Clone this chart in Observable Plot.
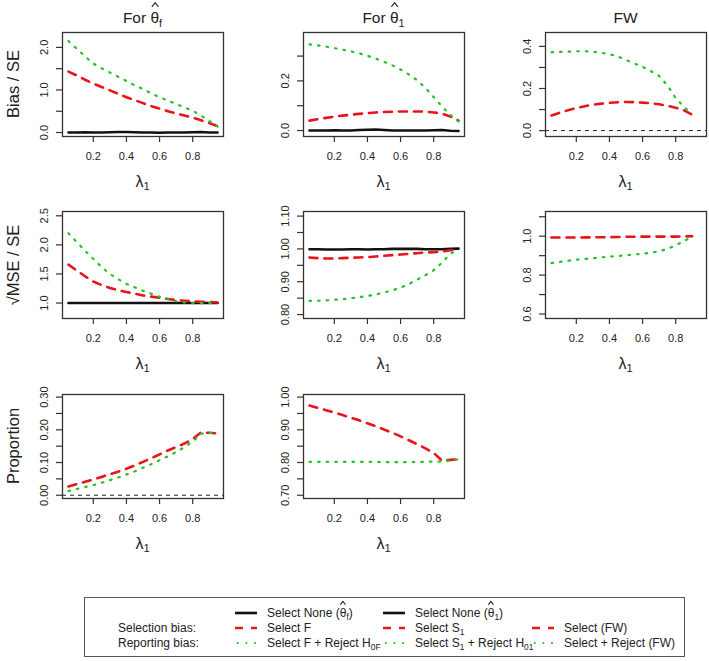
<!DOCTYPE html>
<html><head><meta charset="utf-8">
<script src="https://cdn.jsdelivr.net/npm/d3@7"></script>
<script src="https://cdn.jsdelivr.net/npm/@observablehq/plot@0.6"></script>
<style>
body{margin:0;background:#fff;}
#root{position:relative;width:709px;height:661px;overflow:hidden;background:#fff;font-family:"Liberation Sans",Arial,Helvetica,sans-serif;color:#222;}
.lbl{position:absolute;white-space:nowrap;line-height:1;}
.hat{position:relative;display:inline-block;line-height:1;}
.hat svg{position:absolute;left:50%;margin-left:-0.24em;top:-0.5em;width:0.48em;height:0.32em;overflow:visible;}
sub{font-size:0.7em;vertical-align:-0.3em;line-height:0;}
#legend{position:absolute;border:1.5px solid #555;box-sizing:border-box;}
</style></head><body><div id="root"><div id="legend"></div></div>
<script>
// ---------------- data ----------------
const lambda   = [0.05,0.10,0.15,0.20,0.25,0.30,0.35,0.40,0.45,0.50,0.55,0.60,0.65,0.70,0.75,0.80,0.85,0.90,0.95];
const lambdaFW = [0.05,0.10,0.15,0.20,0.25,0.30,0.35,0.40,0.45,0.50,0.55,0.60,0.65,0.70,0.75,0.80,0.85,0.90];
const xTicks = [0.2,0.4,0.6,0.8];

// Bias / SE
const biasF_none   = [0.00,0.00,0.005,0.00,0.00,0.005,0.012,0.01,0.005,0.00,0.00,-0.005,0.00,0.00,0.00,0.005,0.01,0.00,0.00];
const biasF_select = [1.43,1.34,1.24,1.15,1.07,0.99,0.91,0.83,0.76,0.69,0.62,0.56,0.50,0.45,0.40,0.35,0.29,0.22,0.15];
const biasF_reject = [2.15,1.97,1.79,1.62,1.51,1.41,1.31,1.21,1.11,1.02,0.92,0.83,0.75,0.67,0.59,0.51,0.40,0.27,0.14];
const bias1_none   = [0.000,0.000,0.000,0.001,0.000,0.000,0.002,0.003,0.004,0.002,0.000,0.000,0.000,0.000,0.000,0.001,0.002,-0.001,-0.002];
const bias1_select = [0.040,0.046,0.051,0.056,0.060,0.064,0.067,0.070,0.073,0.075,0.076,0.077,0.077,0.077,0.076,0.073,0.068,0.057,0.040];
const bias1_reject = [0.347,0.343,0.338,0.332,0.326,0.319,0.311,0.301,0.290,0.277,0.263,0.246,0.226,0.203,0.172,0.135,0.097,0.063,0.037];
const biasFW_select = [0.072,0.085,0.097,0.107,0.116,0.123,0.128,0.132,0.135,0.136,0.135,0.133,0.130,0.125,0.118,0.109,0.096,0.076];
const biasFW_reject = [0.372,0.374,0.375,0.377,0.377,0.375,0.370,0.363,0.352,0.336,0.319,0.303,0.283,0.260,0.215,0.155,0.112,0.079];

// sqrt(MSE) / SE
const mseF_none   = [1.000,1.000,1.000,1.000,1.000,1.000,1.000,1.000,1.000,1.000,1.000,1.000,1.000,1.000,1.000,1.000,1.000,1.000,1.000];
const mseF_select = [1.66,1.56,1.46,1.37,1.31,1.26,1.22,1.19,1.16,1.13,1.11,1.09,1.07,1.05,1.04,1.03,1.02,1.02,1.01];
const mseF_reject = [2.20,2.05,1.90,1.76,1.62,1.50,1.41,1.33,1.27,1.21,1.16,1.11,1.07,1.03,1.01,1.00,1.00,1.00,1.00];
const mse1_none   = [0.999,0.999,0.998,0.998,0.998,0.999,0.999,0.998,0.999,0.999,1.000,1.000,1.000,1.000,0.999,0.999,0.999,1.000,1.001];
const mse1_select = [0.974,0.972,0.971,0.971,0.972,0.973,0.974,0.975,0.977,0.979,0.981,0.983,0.985,0.987,0.989,0.990,0.992,0.996,1.000];
const mse1_reject = [0.842,0.842,0.843,0.845,0.847,0.850,0.853,0.857,0.861,0.867,0.874,0.882,0.893,0.906,0.920,0.935,0.958,0.985,1.000];
const mseFW_select = [0.993,0.993,0.993,0.993,0.994,0.994,0.995,0.995,0.996,0.997,0.997,0.998,0.998,0.998,0.998,0.998,0.999,1.000];
const mseFW_reject = [0.862,0.868,0.874,0.879,0.883,0.887,0.891,0.895,0.898,0.902,0.906,0.910,0.915,0.922,0.935,0.953,0.975,0.998];

// Proportion
const propF_select = [0.027,0.034,0.041,0.048,0.056,0.064,0.072,0.081,0.091,0.102,0.113,0.125,0.137,0.147,0.158,0.172,0.192,0.191,0.189];
const propF_reject = [0.013,0.019,0.025,0.031,0.038,0.046,0.054,0.063,0.073,0.084,0.095,0.107,0.119,0.132,0.147,0.164,0.188,0.191,0.189];
const prop1_select = [0.974,0.967,0.960,0.953,0.945,0.937,0.929,0.920,0.911,0.901,0.891,0.880,0.868,0.856,0.843,0.829,0.806,0.808,0.810];
const prop1_reject = [0.802,0.802,0.802,0.802,0.802,0.802,0.802,0.802,0.802,0.801,0.801,0.801,0.801,0.802,0.802,0.803,0.803,0.806,0.810];

// y tick marks and labelled ticks per panel
const ticksBiasF = [0,0.5,1,1.5,2],             labelsBiasF = [0,1,2];
const ticksBias1 = [0,0.1,0.2,0.3],             labelsBias1 = [0,0.2];
const ticksBiasFW = [0,0.1,0.2,0.3,0.4],        labelsBiasFW = [0,0.2,0.4];
const ticksMseF = [1,1.5,2,2.5],                labelsMseF = [1,1.5,2,2.5];
const ticksMse1 = [0.8,0.85,0.9,0.95,1,1.05,1.1], labelsMse1 = [0.8,0.9,1,1.1];
const ticksMseFW = [0.6,0.7,0.8,0.9,1,1.1],     labelsMseFW = [0.6,0.8,1];
const ticksPropF = [0,0.05,0.1,0.15,0.2,0.25,0.3], labelsPropF = [0,0.1,0.2,0.3];
const ticksProp1 = [0.7,0.75,0.8,0.85,0.9,0.95,1], labelsProp1 = [0.7,0.8,0.9,1];

// ---------------- layout / style ----------------
const colLeft = [62, 303, 545], frameW = 161;
const rowTop = [32, 211, 394], rowH = [104, 107, 104];
const xDomain = [0.014, 0.986];
const lineStyle = {
  none:   {stroke:"#111", strokeWidth:2.6},
  select: {stroke:"#e8141b", strokeWidth:2.6, strokeDasharray:"8,7"},
  reject: {stroke:"#22c322", strokeWidth:2.2, strokeDasharray:"1.6,7"}
};
const root = document.getElementById("root");

const panels = [
  {col:0,row:0,domain:[-0.094,2.35],ticks:ticksBiasF,labels:labelsBiasF,fmt:".1f",
   series:[[lambda,biasF_none,"none"],[lambda,biasF_select,"select"],[lambda,biasF_reject,"reject"]]},
  {col:1,row:0,domain:[-0.024,0.395],ticks:ticksBias1,labels:labelsBias1,fmt:".1f",
   series:[[lambda,bias1_none,"none"],[lambda,bias1_select,"select"],[lambda,bias1_reject,"reject"]]},
  {col:2,row:0,domain:[-0.028,0.466],ticks:ticksBiasFW,labels:labelsBiasFW,fmt:".1f",zero:true,
   series:[[lambdaFW,biasFW_select,"select"],[lambdaFW,biasFW_reject,"reject"]]},
  {col:0,row:1,domain:[0.734,2.574],ticks:ticksMseF,labels:labelsMseF,fmt:".1f",
   series:[[lambda,mseF_none,"none"],[lambda,mseF_select,"select"],[lambda,mseF_reject,"reject"]]},
  {col:1,row:1,domain:[0.788,1.114],ticks:ticksMse1,labels:labelsMse1,fmt:".2f",
   series:[[lambda,mse1_none,"none"],[lambda,mse1_select,"select"],[lambda,mse1_reject,"reject"]]},
  {col:2,row:1,domain:[0.577,1.127],ticks:ticksMseFW,labels:labelsMseFW,fmt:".1f",
   series:[[lambdaFW,mseFW_select,"select"],[lambdaFW,mseFW_reject,"reject"]]},
  {col:0,row:2,domain:[-0.010,0.308],ticks:ticksPropF,labels:labelsPropF,fmt:".2f",zero:true,
   series:[[lambda,propF_select,"select"],[lambda,propF_reject,"reject"]]},
  {col:1,row:2,domain:[0.690,1.008],ticks:ticksProp1,labels:labelsProp1,fmt:".2f",
   series:[[lambda,prop1_select,"select"],[lambda,prop1_reject,"reject"]]}
];

function addLabel(html, x, y, size, rot) {
  const d = document.createElement("div");
  d.className = "lbl";
  d.innerHTML = html;
  d.style.left = x + "px"; d.style.top = y + "px"; d.style.fontSize = size + "px";
  d.style.transform = "translate(-50%,-50%)" + (rot ? ` rotate(${rot}deg)` : "");
  root.appendChild(d);
  return d;
}
// hat accent drawn as a small caret shape above the symbol
const hat = s => `<span class="hat">${s}<svg viewBox="0 0 10 6" preserveAspectRatio="none"><polyline points="0.6,5.6 5,0.6 9.4,5.6" fill="none" stroke="currentColor" stroke-width="1.1" vector-effect="non-scaling-stroke"/></svg></span>`;

for (const p of panels) {
  const ml = 62, mt = 12, mr = 8, mb = 30;
  const fl = colLeft[p.col], ft = rowTop[p.row], fh = rowH[p.row];
  const marks = [];
  if (p.zero) marks.push(Plot.ruleY([0], {stroke:"#222", strokeWidth:1, strokeDasharray:"4,4"}));
  for (const [xs, ys, kind] of p.series) {
    const data = xs.map((x, i) => ({x, y: ys[i]}));
    marks.push(Plot.line(data, {x:"x", y:"y", ...lineStyle[kind]}));
  }
  const fmt = d3.format(p.fmt);
  marks.push(Plot.axisX(xTicks, {tickFormat: d3.format(".1f"), tickSize:6, tickPadding:9.5, label:null, strokeWidth:1.2, stroke:"#333"}));
  marks.push(Plot.axisY(p.ticks, {tickFormat: d => p.labels.some(v => Math.abs(v - d) < 1e-9) ? fmt(d) : "",
    tickSize:6, tickRotate:-90, tickPadding:9, label:null, strokeWidth:1.2, stroke:"#333"}));
  marks.push(Plot.frame({stroke:"#333", strokeWidth:1.3}));
  const svg = Plot.plot({
    width: ml + frameW + mr, height: mt + fh + mb,
    marginLeft: ml, marginTop: mt, marginRight: mr, marginBottom: mb,
    x: {domain: xDomain}, y: {domain: p.domain},
    style: {fontFamily:"Liberation Sans, Arial, sans-serif", fontSize:"11px", color:"#222", background:"transparent", overflow:"visible"},
    marks
  });
  svg.style.position = "absolute";
  svg.style.left = (fl - ml) + "px";
  svg.style.top = (ft - mt) + "px";
  root.appendChild(svg);
  addLabel("λ<sub>1</sub>", fl + frameW / 2, ft + fh + 45.5, 16);
}

// column titles
const colTitles = [`For ${hat("θ")}<sub>f</sub>`, `For ${hat("θ")}<sub>1</sub>`, "FW"];
colTitles.forEach((t, c) => addLabel(t, colLeft[c] + frameW / 2, 18, 15.5));
// row titles
const rowTitles = ["Bias / SE", "√MSE / SE", "Proportion"];
rowTitles.forEach((t, r) => addLabel(t, 13, rowTop[r] + rowH[r] / 2, 16.5, -90));

// ---------------- legend ----------------
const leg = document.getElementById("legend");
Object.assign(leg.style, {left:"84px", top:"597px", width:"601px", height:"60px"});
const legRows = [613, 628, 643];
const rowLabels = ["", "Selection bias:", "Reporting bias:"];
const legCols = [
  {x0:235, tx:267, items:[["none", `Select None (${hat("θ")}<sub>f</sub>)`], ["select","Select F"], ["reject","Select F + Reject H<sub>0F</sub>"]]},
  {x0:383, tx:415, items:[["none", `Select None (${hat("θ")}<sub>1</sub>)`], ["select","Select S<sub>1</sub>"], ["reject","Select S<sub>1</sub> + Reject H<sub>01</sub>"]]},
  {x0:532, tx:564, items:[null, ["select","Select (FW)"], ["reject","Select + Reject (FW)"]]}
];
function addLeft(html, x, y, size) {
  const d = document.createElement("div");
  d.className = "lbl";
  d.innerHTML = html;
  d.style.left = x + "px"; d.style.top = y + "px"; d.style.fontSize = size + "px";
  d.style.transform = "translate(0,-50%)";
  root.appendChild(d);
}
rowLabels.forEach((t, i) => { if (t) addLeft(t, 118, legRows[i], 12); });
legCols.forEach(col => {
  col.items.forEach((it, i) => {
    if (!it) return;
    const [kind, text] = it;
    const s = d3.create("svg").attr("width", 24).attr("height", 8)
      .style("position","absolute").style("left", col.x0 + "px").style("top", (legRows[i] - 4) + "px");
    const st = lineStyle[kind];
    s.append("line").attr("x1", 0).attr("x2", 22).attr("y1", 4).attr("y2", 4)
      .attr("stroke", st.stroke).attr("stroke-width", st.strokeWidth)
      .attr("stroke-dasharray", kind === "select" ? "8,8" : kind === "reject" ? "1.6,7" : null)
      .attr("stroke-dashoffset", kind === "reject" ? -2 : 0);
    root.appendChild(s.node());
    addLeft(text, col.tx, legRows[i], 12);
  });
});
</script></body></html>
